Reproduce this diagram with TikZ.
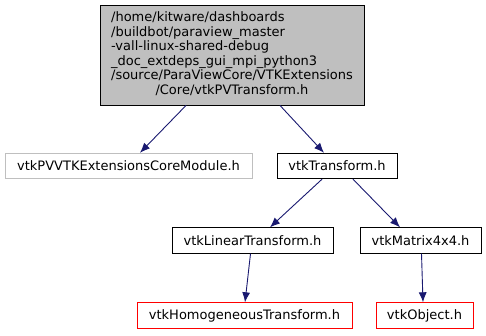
\documentclass[tikz,border=0pt]{standalone}
\usepackage{fontspec}
\setmainfont{DejaVu Sans}
\usetikzlibrary{arrows.meta}
\definecolor{edgeblue}{HTML}{191970}
\definecolor{nodegray}{HTML}{BFBFBF}
\begin{document}
\begin{tikzpicture}[x=1pt,y=-1pt,
  font=\fontsize{13}{14}\selectfont,
  box/.style={draw=black,fill=white,line width=0.9pt,inner sep=0pt,minimum height=25.5pt},
  extbox/.style={box,draw=nodegray},
  missbox/.style={box,draw=red},
  dep/.style={draw=edgeblue,line width=0.9pt,-{Latex[length=10pt,width=8pt]}}]
\useasboundingbox (0,0) rectangle (486,335);
\node[box,fill=nodegray,minimum width=264pt,minimum height=100pt,
      font=\fontsize{13}{14.6}\selectfont] (top) at (232,55)
  {\begin{tabular}{@{}l@{}}
   /home/kitware/dashboards\\
   /buildbot/paraview\_master\\
   -vall-linux-shared-debug\\
   \_doc\_extdeps\_gui\_mpi\_python3\\
   /source/ParaViewCore/VTKExtensions\\
   \multicolumn{1}{@{}c@{}}{/Core/vtkPVTransform.h}
   \end{tabular}};
\node[extbox,minimum width=247pt] (pv) at (128.5,166) {vtkPVVTKExtensionsCoreModule.h};
\node[box,minimum width=120pt] (tf) at (337,166) {vtkTransform.h};
\node[box,minimum width=161pt] (lin) at (252.5,240.5) {vtkLinearTransform.h};
\node[box,minimum width=121pt] (mat) at (420.5,240.5) {vtkMatrix4x4.h};
\node[missbox,minimum width=215pt] (hom) at (244.5,315.5) {vtkHomogeneousTransform.h};
\node[missbox,minimum width=97pt] (obj) at (424.5,315.5) {vtkObject.h};
\draw[dep] ([xshift=-46pt]top.south) -- ([xshift=11.5pt]pv.north);
\draw[dep] ([xshift=48pt]top.south) -- ([xshift=-13pt]tf.north);
\draw[dep] ([xshift=-15pt]tf.south) -- ([xshift=17.5pt]lin.north);
\draw[dep] ([xshift=16pt]tf.south) -- ([xshift=-20.5pt]mat.north);
\draw[dep] ([xshift=-2pt]lin.south) -- ([xshift=0.5pt]hom.north);
\draw[dep] ([xshift=1pt]mat.south) -- ([xshift=-1.5pt]obj.north);
\end{tikzpicture}
\end{document}
